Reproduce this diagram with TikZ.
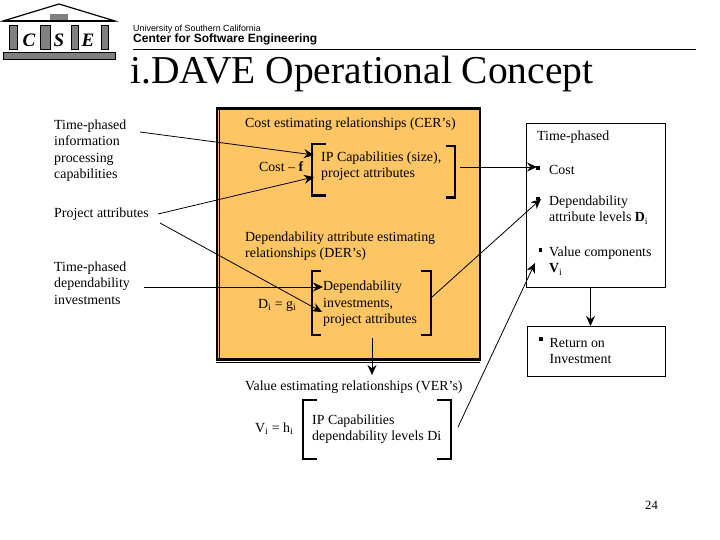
\documentclass[tikz,border=0pt]{standalone}
\usepackage{fontspec}
\setmainfont{Liberation Serif}
\newfontfamily\hdfont{Liberation Sans}
\usetikzlibrary{arrows.meta}
\definecolor{panel}{HTML}{FDC564}
\tikzset{
  lab/.style={anchor=west,inner sep=0pt,align=left,font=\fontsize{13.9}{16.5}\selectfont},
  conn/.style={line width=0.8pt,-{Stealth[length=10pt,width=9pt]}},
  brk/.style={line width=2.2pt,line cap=butt},
  boxed/.style={draw,line width=0.8pt,fill=white},
  bul/.style={fill=black,inner sep=0pt,minimum size=3.8pt},
  col/.style={fill=black!50,draw=black,line width=0.6pt},
  logo/.style={font=\fontsize{19}{19}\selectfont\bfseries\itshape,inner sep=0pt}
}
\begin{document}
\begin{tikzpicture}[x=1pt,y=-1pt]
\useasboundingbox[fill=white] (0,0) rectangle (720,540);
% logo
\path[fill=white,draw=black,line width=1.2pt] (3,21) -- (59,4) -- (115,21) -- cycle;
\draw[line width=1.8pt] (3,21) -- (115,21);
\path[fill=black!50] (50,14) rectangle (68,20);
\foreach \a/\b in {9/17,40/50,71/78,101/108}{\path[col] (\a,25) rectangle (\b,49);}
\path[col] (3,52) rectangle (115,59);
\node[logo] (lc) at (29,40) {C};
\node[logo] (ls) at (59,40) {S};
\node[logo] (le) at (88,40) {E};
% header
\node[anchor=west,inner sep=0pt,font=\hdfont\fontsize{8.9}{8.9}\selectfont] (uni) at (133,29) {University of Southern California};
\node[anchor=west,inner sep=0pt,font=\hdfont\bfseries\fontsize{12}{12}\selectfont] (cse) at (133,39.5) {Center for Software  Engineering};
\draw[line width=0.8pt] (133,49.5) -- (696,49.5);
\node[anchor=west,inner sep=0pt,font=\fontsize{39.5}{39.5}\selectfont] (title) at (130,74) {i.DAVE Operational Concept};
% panel
\path[fill=panel,draw=black,line width=2.6pt] (217,108.5) rectangle (480,359.5);
\draw[line width=0.7pt] (219.8,108.5) -- (219.8,359.5);
\draw[line width=0.7pt] (216,362.8) -- (480,362.8);
% left labels
\node[lab] (tpi) at (54,150.5) {Time-phased\\information\\processing\\capabilities};
\node[lab] (pa) at (54,214) {Project attributes};
\node[lab] (tpd) at (54,283) {Time-phased\\dependability\\investments};
% panel text
\node[lab] (cer) at (245,124) {Cost estimating relationships (CER’s)};
\node[lab] (costf) at (259,167) {Cost – \textbf{f}};
\node[lab] (ipc) at (321,166) {IP Capabilities (size),\\project attributes};
\node[lab] (der) at (245,246) {Dependability attribute estimating\\relationships (DER’s)};
\node[lab] (dg) at (258,305) {D\textsubscript{i} = g\textsubscript{i}};
\node[lab] (dinv) at (323,304) {Dependability\\investments,\\project attributes};
% VER
\node[lab] (ver) at (245,387) {Value estimating relationships (VER’s)};
\node[lab] (vh) at (255,429) {V\textsubscript{i} = h\textsubscript{i}};
\node[lab] (ipd) at (312,429) {IP Capabilities\\dependability levels Di};
% brackets
\draw[brk] (326,144) -- (312,144) -- (312,195.5) -- (326,195.5);
\draw[brk] (446,146) -- (455,146) -- (455,197.5) -- (446,197.5);
\draw[brk] (321,271) -- (312,271) -- (312,335) -- (321,335);
\draw[brk] (421,271) -- (431,271) -- (431,335) -- (421,335);
\draw[brk] (317,400) -- (303,400) -- (303,459) -- (317,459);
\draw[brk] (437,400) -- (451,400) -- (451,459) -- (437,459);
% right boxes
\node[boxed,anchor=north west,minimum width=139pt,minimum height=164pt,inner sep=0pt] (tbox) at (525.5,123) {};
\node[boxed,anchor=north west,minimum width=138pt,minimum height=50pt,inner sep=0pt] (rbox) at (527,326) {};
\node[lab] (tp) at (537,137) {Time-phased};
\node[bul] (b1) at (538,168) {};
\node[lab] (cost) at (549,169.5) {Cost};
\node[bul] (b2) at (538,198.5) {};
\node[lab] (dal) at (549,210) {Dependability\\attribute levels \textbf{D}\textsubscript{i}};
\node[bul] (b3) at (540.5,250) {};
\node[lab] (vc) at (549,261) {Value components\\\textbf{V}\textsubscript{i}};
\node[bul] (b4) at (541,339) {};
\node[lab] (roi) at (549.5,351) {Return on\\Investment};
\node[anchor=west,inner sep=0pt,font=\fontsize{12.6}{12.6}\selectfont] (pg) at (645,505) {24};
% connector ends
\coordinate (s1) at (140,132);
\coordinate (s2) at (158,214);
\coordinate (s3) at (160,223);
\coordinate (s4) at (144,287);
\coordinate (e1) at (314,155);
\coordinate (e2) at (314,177);
\coordinate (e3) at (322,312);
\coordinate (e4) at (323,287);
\coordinate (s5) at (460,167);
\coordinate (e5) at (537,167);
\coordinate (s6) at (432,297);
\coordinate (e6) at (541,199);
\coordinate (s7) at (372,338);
\coordinate (e7) at (372,375);
\coordinate (s8) at (458,427);
\coordinate (e8) at (535,263);
\draw[conn] (s1) -- (e1);
\draw[conn] (s2) -- (e2);
\draw[conn] (s3) -- (e3);
\draw[conn] (s4) -- (e4);
\draw[conn] (s5) -- (e5);
\draw[conn] (s6) -- (e6);
\draw[conn] (s7) -- (e7);
\draw[conn] (s8) -- (e8);
\draw[conn] (tbox.south -| 590.5,0) -- (rbox.north -| 590.5,0);
\end{tikzpicture}
\end{document}
